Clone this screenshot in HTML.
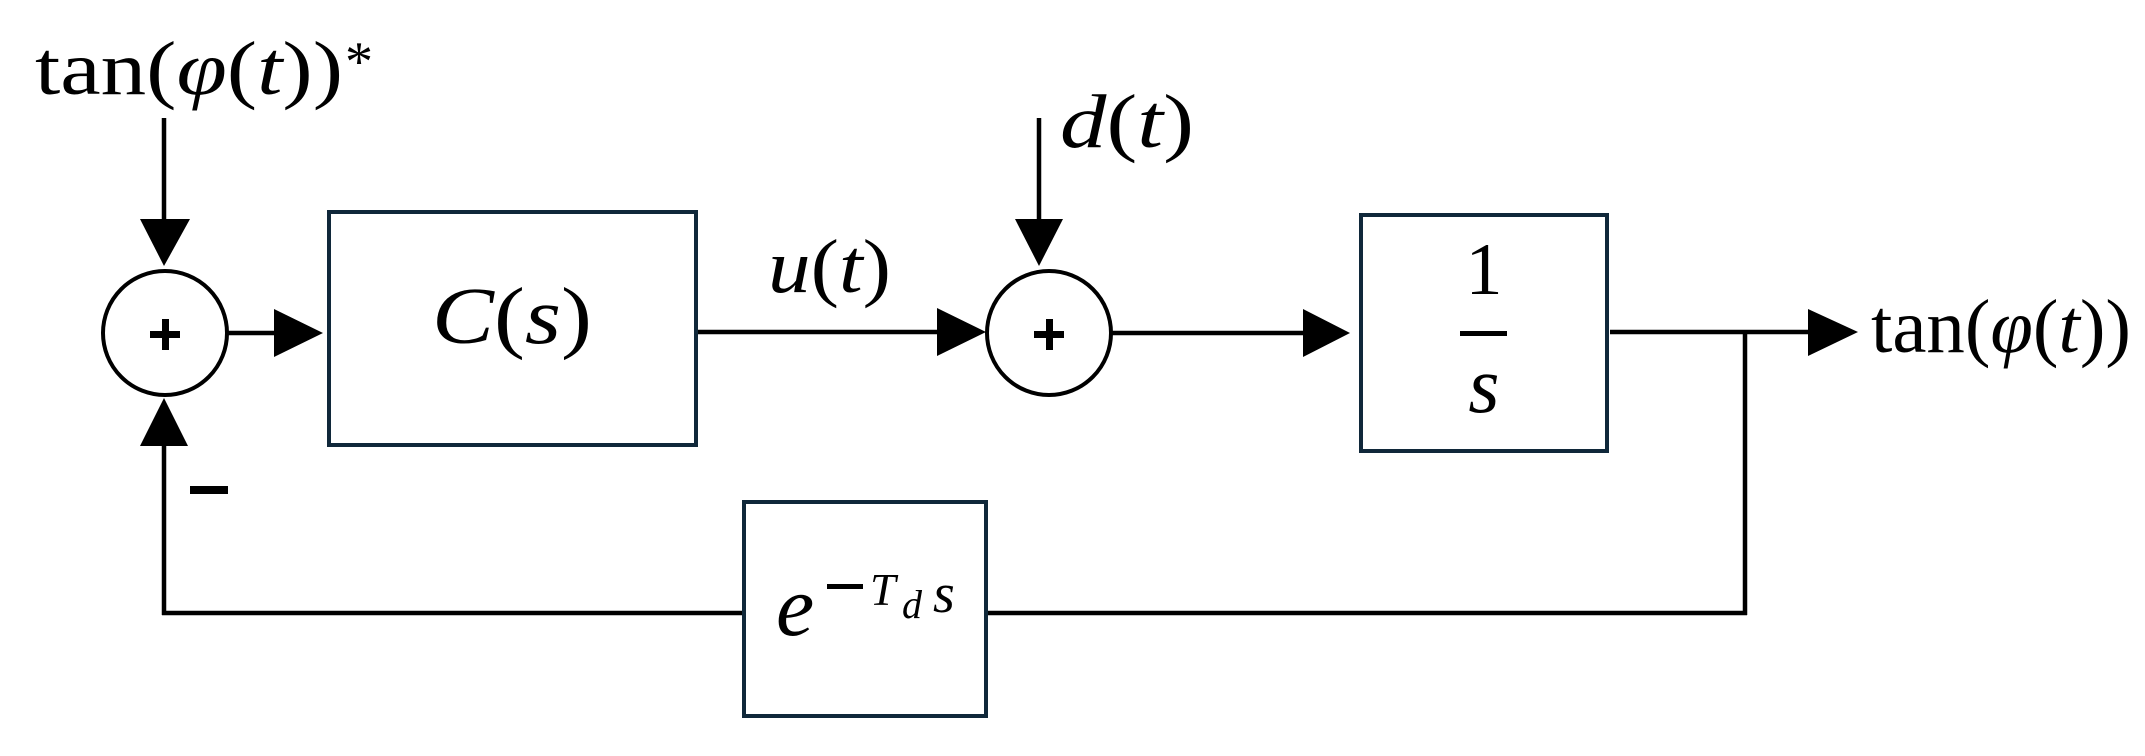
<!DOCTYPE html>
<html><head><meta charset="utf-8"><style>
html,body{margin:0;padding:0;background:#fff;}
svg{display:block;}
</style></head><body>
<svg width="2145" height="756" viewBox="0 0 2145 756" xmlns="http://www.w3.org/2000/svg" font-family="Liberation Serif, serif">
<g stroke="#000" stroke-width="4.5" fill="none">
  <!-- ref input vertical -->
  <line x1="164" y1="118" x2="164" y2="225"/>
  <!-- sum1 -->
  <circle cx="165" cy="333" r="62" stroke-width="4"/>
  <!-- sum1 -> C -->
  <line x1="227" y1="333" x2="280" y2="333"/>
  <!-- C -> sum2 -->
  <line x1="697" y1="332" x2="945" y2="332"/>
  <!-- d vertical -->
  <line x1="1039" y1="118" x2="1039" y2="225"/>
  <!-- sum2 -->
  <circle cx="1049" cy="333" r="62" stroke-width="4"/>
  <!-- sum2 -> 1/s -->
  <line x1="1111" y1="333" x2="1310" y2="333"/>
  <!-- 1/s -> output -->
  <line x1="1610" y1="332" x2="1815" y2="332"/>
  <!-- branch down -->
  <line x1="1745" y1="332" x2="1745" y2="615"/>
  <!-- feedback bottom -->
  <line x1="987" y1="613" x2="1747" y2="613"/>
  <line x1="162" y1="613" x2="743" y2="613"/>
  <line x1="164" y1="615" x2="164" y2="440"/>
</g>
<!-- arrowheads -->
<g fill="#000">
  <polygon points="140,219 190,219 164,266"/>
  <polygon points="274,309 274,357 323,333"/>
  <polygon points="937,308 937,356 986,332"/>
  <polygon points="1015,219 1063,219 1039,266"/>
  <polygon points="1303,309 1303,357 1350,333"/>
  <polygon points="1808,309 1808,356 1858,332"/>
  <polygon points="140,446 188,446 164,398"/>
</g>
<!-- blocks -->
<g fill="none" stroke="#10283a" stroke-width="4">
  <rect x="329" y="212" width="367" height="233"/>
  <rect x="1361" y="215" width="246" height="236"/>
  <rect x="744" y="502" width="242" height="214"/>
</g>
<!-- plus signs -->
<g fill="#000">
  <rect x="150" y="331" width="30" height="7"/>
  <rect x="162" y="319" width="7" height="31"/>
  <rect x="1034" y="331" width="30" height="7"/>
  <rect x="1046" y="319" width="7" height="31"/>
  <!-- minus -->
  <rect x="190" y="486" width="38" height="8"/>
  <!-- fraction bar -->
  <rect x="1460" y="331" width="47" height="5"/>
</g>
<!-- texts -->
<g fill="#000">
  <text x="35" y="94" font-size="76" textLength="308" lengthAdjust="spacingAndGlyphs">tan(<tspan font-style="italic">φ</tspan>(<tspan font-style="italic">t</tspan>))</text>
  <text x="345" y="80" font-size="56">*</text>
  <text x="1060" y="147" font-size="76" textLength="134" lengthAdjust="spacingAndGlyphs"><tspan font-style="italic">d</tspan>(<tspan font-style="italic">t</tspan>)</text>
  <text x="768" y="292" font-size="76" textLength="123" lengthAdjust="spacingAndGlyphs"><tspan font-style="italic">u</tspan>(<tspan font-style="italic">t</tspan>)</text>
  <text x="432" y="343" font-size="80" textLength="160" lengthAdjust="spacingAndGlyphs"><tspan font-style="italic">C</tspan>(<tspan font-style="italic">s</tspan>)</text>
  <text x="1484" y="294" font-size="74" text-anchor="middle">1</text>
  <text x="1484" y="412" font-size="80" font-style="italic" text-anchor="middle">s</text>
  <text x="776" y="635" font-size="86" font-style="italic">e</text>
  <rect x="827" y="584" width="36" height="5"/>
  <text x="870" y="605" font-size="46" font-style="italic">T</text>
  <text x="902" y="618" font-size="40" font-style="italic">d</text>
  <text x="933" y="612" font-size="56" font-style="italic">s</text>
  <text x="1871" y="352" font-size="76" textLength="260" lengthAdjust="spacingAndGlyphs">tan(<tspan font-style="italic">φ</tspan>(<tspan font-style="italic">t</tspan>))</text>
</g>
</svg>
</body></html>
